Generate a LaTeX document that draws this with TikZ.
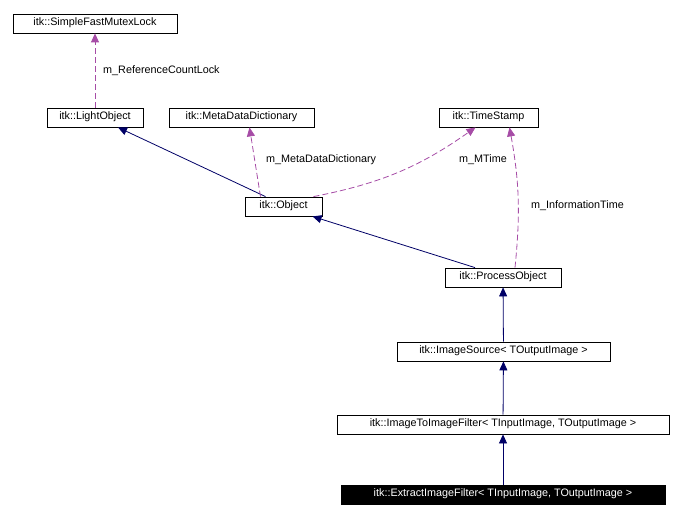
\documentclass[tikz,border=0pt]{standalone}
\usepackage{fontspec}
\setmainfont{Liberation Sans}
\usetikzlibrary{arrows.meta}
\begin{document}
\begin{tikzpicture}[x=1pt,y=-1pt,font=\fontsize{10.8}{12}\selectfont,
    cls/.style={draw, line width=0.8pt, inner sep=0pt, minimum height=19pt, text height=7pt, text depth=3.5pt, align=center},
    inherit/.style={draw=blue!40!black, line width=0.8pt, -{Triangle[length=9pt,width=8pt]}},
    member/.style={draw=violet!70!white, line width=0.8pt, dash pattern=on 6pt off 3pt, -{Triangle[length=9pt,width=8pt]}},
    lbl/.style={anchor=west, inner sep=0pt}]
    \useasboundingbox (0,0) rectangle (684,518);

    \node[cls, minimum width=164pt] (mutex) at (95,23.5) {itk::SimpleFastMutexLock};
    \node[cls, minimum width=96pt] (light) at (95,117.5) {itk::LightObject};
    \node[cls, minimum width=145pt] (meta) at (241.5,117.5) {itk::MetaDataDictionary};
    \node[cls, minimum width=99pt] (stamp) at (488.5,117.5) {itk::TimeStamp};
    \node[cls, minimum width=77pt] (object) at (283.5,206.5) {itk::Object};
    \node[cls, minimum width=116pt] (process) at (503,277.5) {itk::ProcessObject};
    \node[cls, minimum width=213pt] (source) at (503.5,351.5) {itk::ImageSource< TOutputImage >};
    \node[cls, minimum width=332pt] (filter) at (503,424.5) {itk::ImageToImageFilter< TInputImage, TOutputImage >};
    \node[cls, fill=black, text=white, minimum width=324pt] (extract) at (503,494.5) {itk::ExtractImageFilter< TInputImage, TOutputImage >};

    \draw[member] (light.north) -- (mutex.south);
        \node[lbl] at (103,71) {m\_ReferenceCountLock};
    \draw[inherit] ([xshift=-18pt]object.north) -- ([xshift=23pt]light.south);
    \draw[member] ([xshift=-23pt]object.north) -- ([xshift=8pt]meta.south);
        \node[lbl] at (266,160) {m\_MetaDataDictionary};
    \draw[member] ([xshift=30pt]object.north) to[bend right=12] ([xshift=-13pt]stamp.south);
        \node[lbl] at (459,160) {m\_MTime};
    \draw[inherit] ([xshift=-28pt]process.north) -- ([xshift=29pt]object.south);
    \draw[member] ([xshift=12pt]process.north) to[bend right=8] ([xshift=21pt]stamp.south);
        \node[lbl] at (531,206) {m\_InformationTime};
    \draw[inherit] (source) -- (process);
    \draw[inherit] (filter) -- (source);
    \draw[inherit] (extract) -- (filter);
\end{tikzpicture}
\end{document}
